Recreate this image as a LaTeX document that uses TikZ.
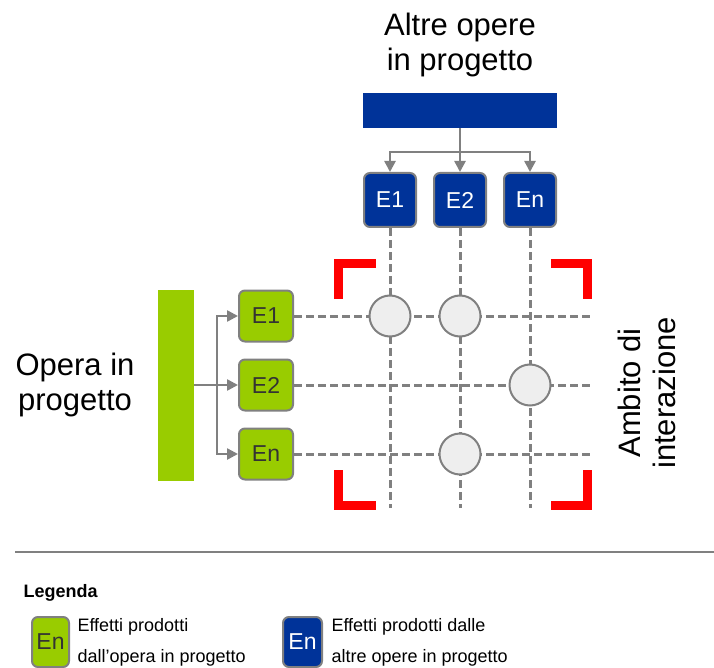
\documentclass[tikz,border=0pt]{standalone}
\usepackage{fontspec}
\setmainfont{Liberation Sans}
\usetikzlibrary{positioning,arrows.meta}
\definecolor{opgreen}{RGB}{153,204,0}
\definecolor{opblue}{RGB}{0,51,153}
\definecolor{linegray}{RGB}{128,128,128}
\definecolor{nodegray}{RGB}{238,238,238}

\begin{document}
\begin{tikzpicture}[x=1pt,y=-1pt,
  bigtext/.style={align=center,font=\fontsize{31}{35}\selectfont},
  effgreen/.style={draw=linegray,line width=2,fill=opgreen,rounded corners=6,minimum width=54,minimum height=51,text=black!80,font=\fontsize{23}{26}\selectfont},
  effblue/.style={draw=linegray,line width=2,fill=opblue,rounded corners=6,minimum width=52,minimum height=54,text=white,font=\fontsize{23}{26}\selectfont},
  link/.style={draw=linegray,line width=2.5,-{Triangle[length=11pt,width=11pt]}},
  gridline/.style={draw=linegray,line width=3,dash pattern=on 8pt off 4pt},
  meet/.style={circle,draw=linegray,line width=2,fill=nodegray,minimum size=41,inner sep=0},
  bracketmark/.style={red,line width=9},
  legtext/.style={align=left,font=\fontsize{18}{31}\selectfont}]
\useasboundingbox (0,0) rectangle (714,668);

% --- other works in project, on top
\node[bigtext] (altre) at (460,45) {Altre opere\\in progetto};
\node[fill=opblue,minimum width=194,minimum height=35,inner sep=0] (altrebar) at (460,110.5) {};
\node[effblue] (b1) at (390,200) {E1};
\node[effblue] (b2) at (460,200) {E2};
\node[effblue] (bn) at (530,200) {En};

% --- work in project, on the left
\node[bigtext] (opera) at (75,385) {Opera in\\progetto};
\node[fill=opgreen,minimum width=36,minimum height=191,inner sep=0] (operabar) at (176,385) {};
\node[effgreen] (g1) at (266,316) {E1};
\node[effgreen] (g2) at (266,385) {E2};
\node[effgreen] (gn) at (266,454) {En};

\coordinate (tsplit) at (460,152);
\coordinate (lsplit) at (217,385);
\coordinate (gridbottom) at (0,508);
\coordinate (gridright) at (590,0);

% --- arrows
\draw[link] (altrebar.south) -- (b2.north);
\draw[link] (tsplit) -| (b1.north);
\draw[link] (tsplit) -| (bn.north);
\draw[link] (operabar.east) -- (g2.west);
\draw[link] (lsplit) |- (g1.west);
\draw[link] (lsplit) |- (gn.west);

% --- dashed grid
\draw[gridline] (b1.south) -- (b1 |- gridbottom);
\draw[gridline] (b2.south) -- (b2 |- gridbottom);
\draw[gridline] (bn.south) -- (bn |- gridbottom);
\draw[gridline] (g1.east) -- (g1 -| gridright);
\draw[gridline] (g2.east) -- (g2 -| gridright);
\draw[gridline] (gn.east) -- (gn -| gridright);

% --- interactions
\node[meet] (m11) at (b1 |- g1) {};
\node[meet] (m21) at (b2 |- g1) {};
\node[meet] (mn2) at (bn |- g2) {};
\node[meet] (m2n) at (b2 |- gn) {};

% --- red corners of the area
\draw[bracketmark] (338,299) -- (338,263) -- (376,263);
\draw[bracketmark] (551,263) -- (587,263) -- (587,299);
\draw[bracketmark] (338,470) -- (338,505) -- (376,505);
\draw[bracketmark] (551,505) -- (587,505) -- (587,470);
\node[bigtext,rotate=90] (ambito) at (647,393) {Ambito di\\interazione};

% --- legend
\draw[linegray,line width=2] (15,552) -- (714,552);
\node[anchor=west,font=\bfseries\fontsize{18}{20}\selectfont] (legenda) at (20,593) {Legenda};
\node[effgreen,minimum width=37,minimum height=50] (lgreen) at (50.5,642) {En};
\node[effblue,minimum width=39,minimum height=50] (lblue) at (302.5,642) {En};
\node[legtext,right=4pt of lgreen] (lgreentext) {Effetti prodotti\\dall'opera in progetto};
\node[legtext,right=5pt of lblue] (lbluetext) {Effetti prodotti dalle\\altre opere in progetto};
\end{tikzpicture}
\end{document}
